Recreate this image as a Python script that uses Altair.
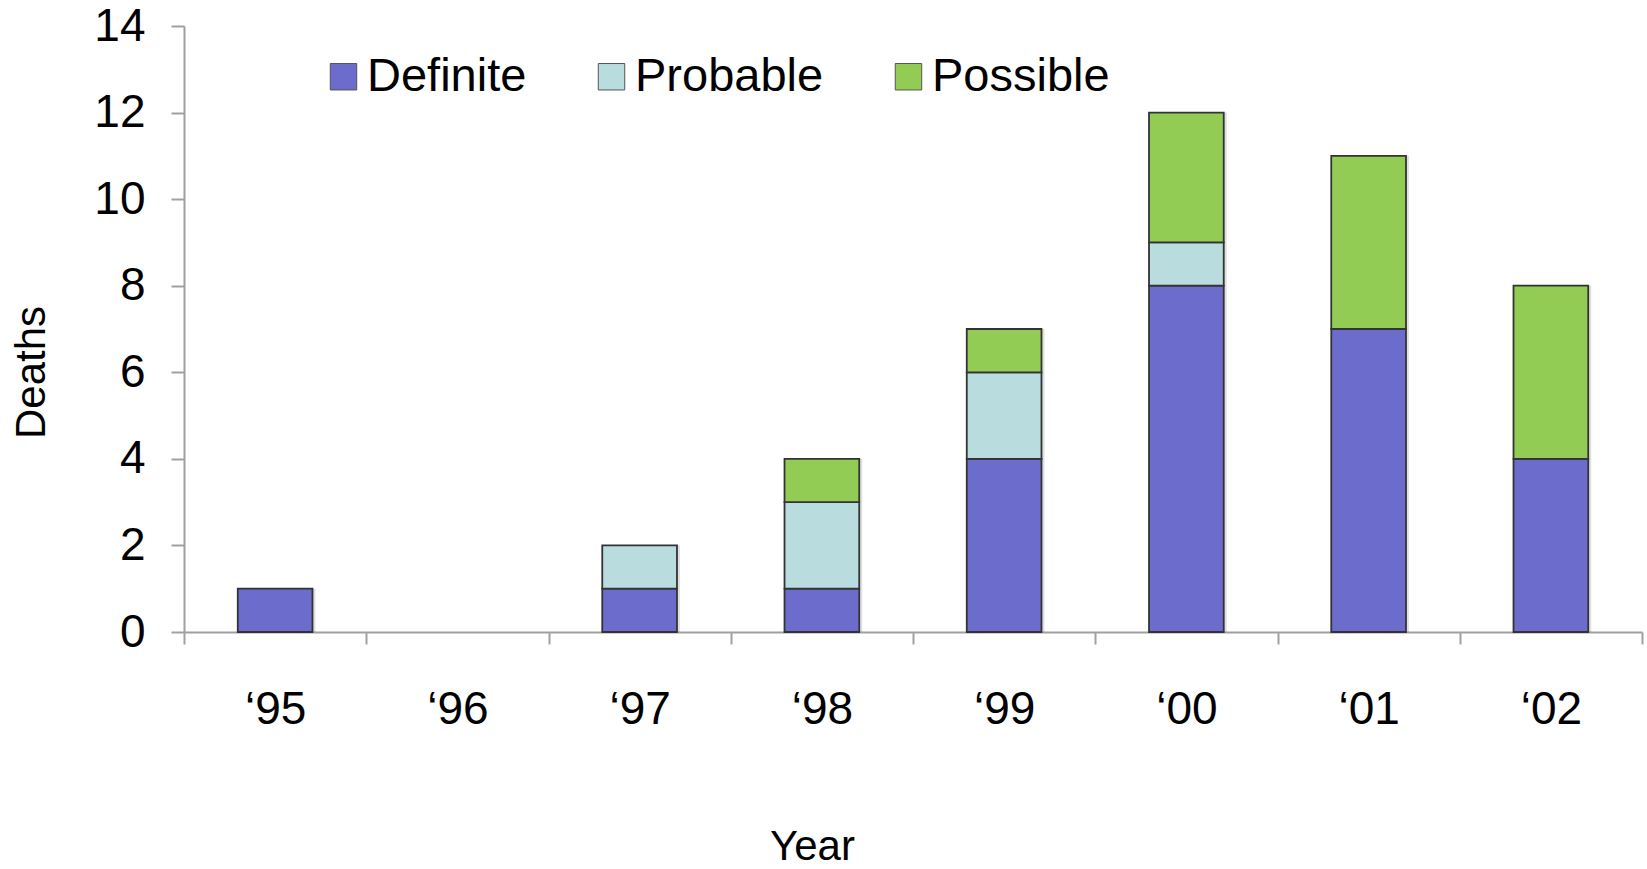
import altair as alt
import pandas as pd

# Deaths per year, split by case classification
years = ["\u201895", "\u201896", "\u201897", "\u201898", "\u201899", "\u201800", "\u201801", "\u201802"]
definite = [1, 0, 1, 1, 4, 8, 7, 4]
probable = [0, 0, 1, 2, 2, 1, 0, 0]
possible = [0, 0, 0, 1, 1, 3, 4, 4]

categories = ["Definite", "Probable", "Possible"]
colors = ["#6C6CCD", "#B9DCDF", "#92CC55"]

rows = []
for i, y in enumerate(years):
    for k, (cat, vals) in enumerate(zip(categories, [definite, probable, possible])):
        rows.append({"Year": y, "Class": cat, "Deaths": vals[i], "order": k})
df = pd.DataFrame(rows)

FONT = "Liberation Sans"
BAR_BAND = 0.41

x_enc = alt.X(
    "Year:N",
    sort=years,
    scale=alt.Scale(domain=years, paddingInner=0, paddingOuter=0),
    axis=alt.Axis(
        title="Year",
        labelAngle=0,
        tickBand="extent",
        tickSize=12,
        labelPadding=43,
        labelFontSize=46,
        labelColor="#000000",
        titleFontSize=42,
        titleFontWeight="normal",
        titleColor="#000000",
        titleX=628,
        titleY=214,
        titleBaseline="middle",
        titleAlign="center",
    ),
)

y_axis = alt.Axis(
    title="Deaths",
    values=[0, 2, 4, 6, 8, 10, 12, 14],
    grid=False,
    tickSize=13,
    labelPadding=26,
    labelFontSize=46,
    labelColor="#000000",
    titleFontSize=42,
    titleFontWeight="normal",
    titleColor="#000000",
    titleX=-153,
    titleY=346,
    titleAngle=270,
    titleBaseline="middle",
    titleAlign="center",
)
y_scale = alt.Scale(domain=[0, 14], nice=False)

base = alt.Chart(df).transform_filter(alt.datum.Deaths > 0)

# soft drop shadow behind each full stack
shadow = base.transform_aggregate(
    Total="sum(Deaths)", groupby=["Year"]
).mark_bar(
    color="#000000", opacity=0.12, xOffset=3, width=alt.RelativeBandSize(BAR_BAND)
).encode(
    x=x_enc,
    y=alt.Y("Total:Q", scale=y_scale, axis=y_axis),
)

bars = base.mark_bar(
    stroke="#333333", strokeWidth=1.8, width=alt.RelativeBandSize(BAR_BAND)
).encode(
    x=x_enc,
    y=alt.Y("Deaths:Q", stack="zero", scale=y_scale, axis=y_axis),
    color=alt.Color(
        "Class:N",
        sort=categories,
        scale=alt.Scale(domain=categories, range=colors),
        legend=alt.Legend(
            title=None,
            orient="none",
            direction="horizontal",
            legendX=136,
            legendY=27,
            padding=0,
            symbolType="square",
            symbolSize=700,
            symbolStrokeColor="#555555",
            symbolStrokeWidth=1,
            symbolOpacity=1,
            labelFontSize=47,
            labelColor="#000000",
            labelOffset=0,
            labelLimit=0,
            columnPadding=61,
        ),
    ),
    order=alt.Order("order:Q", sort="ascending"),
)

chart = alt.layer(shadow, bars).properties(
    width=1458,
    height=606,
    autosize=alt.AutoSizeParams(type="none"),
    padding={"left": 184, "top": 26, "right": 5, "bottom": 237},
).configure(
    font=FONT,
).configure_axis(
    domainColor="#a0a0a0",
    domainWidth=2,
    tickColor="#a0a0a0",
    tickWidth=2,
    labelFont=FONT,
    titleFont=FONT,
).configure_legend(
    labelFont=FONT,
).configure_view(
    stroke=None,
)

chart.save("out.html", embed_options={"renderer": "svg", "actions": False})
